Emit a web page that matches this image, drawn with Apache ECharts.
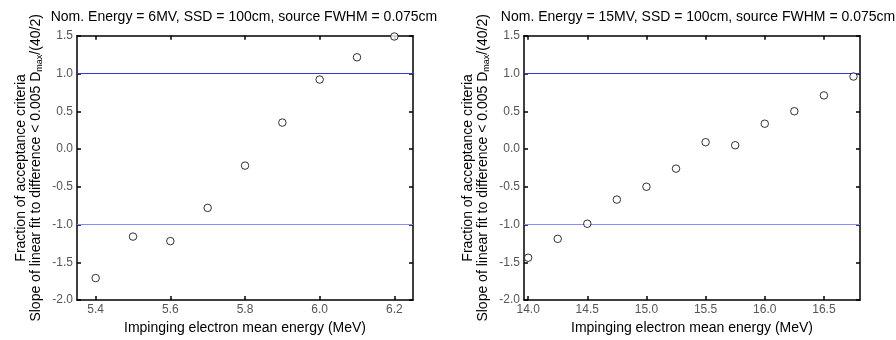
<!DOCTYPE html>
<html>
<head>
<meta charset="utf-8">
<script src="https://cdn.jsdelivr.net/npm/echarts@6/dist/echarts.min.js"></script>
<style>html,body{margin:0;padding:0;background:#fff}#c{width:896px;height:340px}</style>
</head>
<body>
<div id="c"></div>
<script>
const energy6 = [5.4, 5.5, 5.6, 5.7, 5.8, 5.9, 6.0, 6.1, 6.2];
const slope6 = [-1.71, -1.16, -1.22, -0.78, -0.22, 0.35, 0.92, 1.215, 1.49];
const energy15 = [14.0, 14.25, 14.5, 14.75, 15.0, 15.25, 15.5, 15.75, 16.0, 16.25, 16.5, 16.75];
const slope15 = [-1.44, -1.19, -0.99, -0.67, -0.50, -0.26, 0.09, 0.05, 0.335, 0.50, 0.71, 0.96];
const xTicks6 = [5.4, 5.6, 5.8, 6.0, 6.2];
const xTicks15 = [14.0, 14.5, 15.0, 15.5, 16.0, 16.5];
const yTicks = [-2.0, -1.5, -1.0, -0.5, 0.0, 0.5, 1.0, 1.5];
const titles = ['Nom. Energy = 6MV, SSD = 100cm, source FWHM = 0.075cm',
                'Nom. Energy = 15MV, SSD = 100cm, source FWHM = 0.075cm'];
const xName = 'Impinging electron mean energy (MeV)';
const acceptUpper = 1.0, acceptLower = -1.0;

const FONT = '"Liberation Sans", Arial, sans-serif';
const lbl = {color: '#555', fontSize: 12, fontFamily: FONT};
const ranges = [[5.35, 6.25], [13.965, 16.805]];
const grids = [{left: 77, top: 35.75, width: 336, height: 264.25}, {left: 524, top: 35.75, width: 336, height: 264.25}];
const titleCenters = [239, 693];
const xTickSets = [xTicks6, xTicks15];
const dataSets = [[energy6, slope6], [energy15, slope15]];

const xAxis = [], yAxis = [], series = [], title = [];
const yNameStr = '{a|Fraction of acceptance criteria}\n{a|Slope of linear fit to difference < 0.005 D}{s|max}{a|/(40/2)}';
grids.forEach((g, i) => {
  const tickLine = {show: true, inside: true, length: 4, lineStyle: {color: '#000', width: 1.5}};
  xAxis.push({
    type: 'value', gridIndex: i, position: 'bottom', min: ranges[i][0], max: ranges[i][1],
    axisLine: {show: true, onZero: false, lineStyle: {color: '#000', width: 1.5}},
    axisTick: Object.assign({customValues: xTickSets[i]}, tickLine),
    axisLabel: Object.assign({customValues: xTickSets[i], formatter: v => v.toFixed(1), margin: 4}, lbl),
    splitLine: {show: false},
    name: xName, nameLocation: 'middle', nameGap: 17,
    nameTextStyle: {color: '#000', fontSize: 14, fontFamily: FONT}
  });
  xAxis.push({
    type: 'value', gridIndex: i, position: 'top', min: ranges[i][0], max: ranges[i][1],
    axisLine: {show: true, onZero: false, lineStyle: {color: '#000', width: 1.5}},
    axisTick: Object.assign({customValues: xTickSets[i]}, tickLine),
    axisLabel: {show: false}, splitLine: {show: false}
  });
  yAxis.push({
    type: 'value', gridIndex: i, position: 'left', min: -2, max: 1.5, interval: 0.5,
    axisLine: {show: true, onZero: false, lineStyle: {color: '#000', width: 1.5}},
    axisTick: tickLine,
    axisLabel: Object.assign({formatter: v => v.toFixed(1), margin: 4}, lbl),
    splitLine: {show: false},
    name: yNameStr, nameLocation: 'middle', nameRotate: 90, nameGap: 33,
    nameTextStyle: {
      align: 'center',
      rich: {
        a: {fontSize: 14, color: '#000', fontFamily: FONT, lineHeight: 15},
        s: {fontSize: 9, color: '#000', fontFamily: FONT, lineHeight: 15, verticalAlign: 'bottom', padding: [5, 0, 0, 0]}
      }
    }
  });
  yAxis.push({
    type: 'value', gridIndex: i, position: 'right', min: -2, max: 1.5, interval: 0.5,
    axisLine: {show: true, onZero: false, lineStyle: {color: '#000', width: 1.5}},
    axisTick: tickLine,
    axisLabel: {show: false}, splitLine: {show: false}
  });
  title.push({
    text: titles[i], left: titleCenters[i], top: 5, textAlign: 'center',
    textStyle: {fontSize: 14, fontWeight: 'normal', color: '#000', fontFamily: FONT}
  });
  series.push({
    type: 'scatter', xAxisIndex: 2 * i, yAxisIndex: 2 * i,
    data: dataSets[i][0].map((x, k) => [x, dataSets[i][1][k]]),
    symbol: 'circle', symbolSize: 7.5,
    itemStyle: {color: '#fff', borderColor: '#000', borderWidth: 1},
    z: 5
  });
  series.push({
    type: 'line', xAxisIndex: 2 * i, yAxisIndex: 2 * i,
    data: [[ranges[i][0], acceptUpper], [ranges[i][1], acceptUpper]],
    symbol: 'none', silent: true, z: 3,
    lineStyle: {color: '#3535ea', width: 1}
  });
  series.push({
    type: 'line', xAxisIndex: 2 * i, yAxisIndex: 2 * i,
    data: [[ranges[i][0], acceptLower], [ranges[i][1], acceptLower]],
    symbol: 'none', silent: true, z: 3,
    lineStyle: {color: '#8a8aff', width: 1}
  });
});

const chart = echarts.init(document.getElementById('c'), null, {renderer: 'canvas'});
chart.setOption({
  animation: false,
  backgroundColor: '#fff',
  title, grid: grids, xAxis, yAxis, series
});
</script>
</body>
</html>
